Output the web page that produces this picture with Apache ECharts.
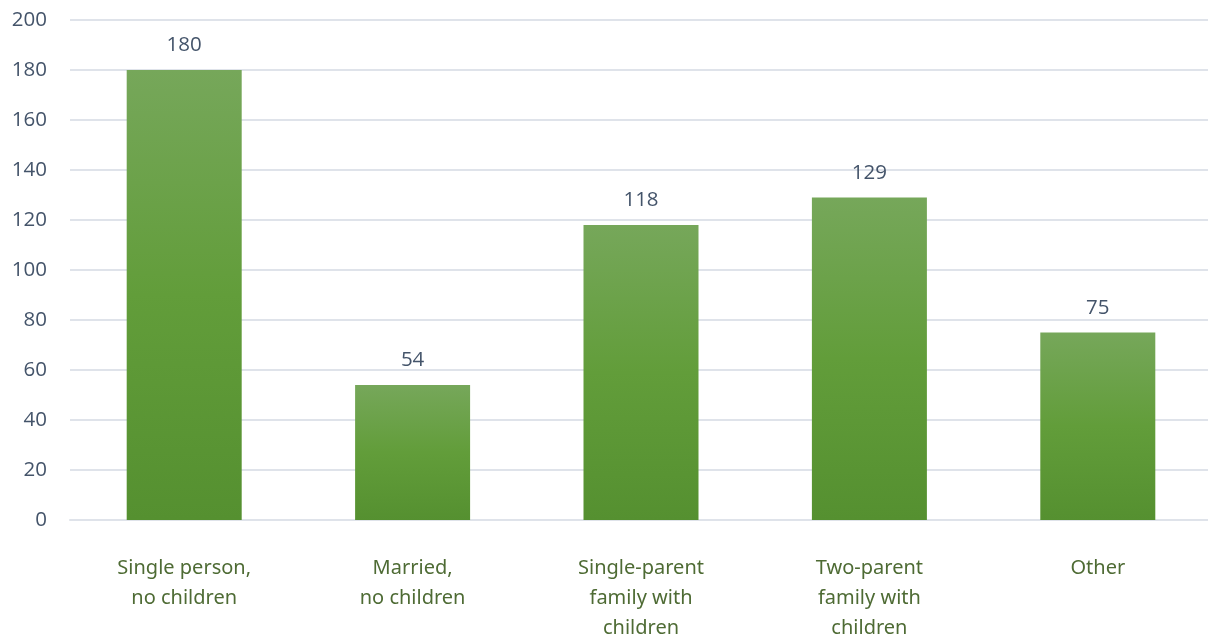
<!DOCTYPE html>
<html>
<head>
<meta charset="utf-8">
<script src="https://cdn.jsdelivr.net/npm/echarts@6/dist/echarts.min.js"></script>
<style>
  html, body { margin: 0; padding: 0; background: #ffffff; }
  #chart { width: 1208px; height: 637px; }
</style>
</head>
<body>
<div id="chart"></div>
<script>
// Household types and their counts
const categories = [
  'Single person,\nno children',
  'Married,\nno children',
  'Single-parent\nfamily with\nchildren',
  'Two-parent\nfamily with\nchildren',
  'Other'
];
const values = [180, 54, 118, 129, 75];
const yTicks = { min: 0, max: 200, interval: 20 };

const chart = echarts.init(document.getElementById('chart'));
chart.setOption({
  animation: false,
  grid: {
    left: 70, right: -4, top: 20, bottom: 117,
    containLabel: false,
    outerBoundsMode: 'none'
  },
  xAxis: {
    type: 'category',
    data: categories,
    axisLine: { show: true, lineStyle: { color: '#dfe3ea', width: 2 } },
    axisTick: { show: false },
    axisLabel: {
      color: '#4e6b34',
      fontFamily: 'Noto Sans',
      fontSize: 20,
      lineHeight: 30,
      margin: 33,
      verticalAlign: 'top',
      interval: 0
    }
  },
  yAxis: {
    type: 'value',
    min: yTicks.min,
    max: yTicks.max,
    interval: yTicks.interval,
    axisLine: { show: false },
    axisTick: { show: false },
    splitLine: { lineStyle: { color: '#dfe3ea', width: 2 } },
    axisLabel: {
      color: '#44546a',
      fontFamily: 'Open Sans',
      fontSize: 20.5,
      margin: 23,
      align: 'right'
    }
  },
  series: [{
    type: 'bar',
    data: values,
    barWidth: 115,
    itemStyle: {
      color: new echarts.graphic.LinearGradient(0, 0, 0, 1, [
        { offset: 0, color: '#76a75a' },
        { offset: 0.5, color: '#629d3a' },
        { offset: 1, color: '#559030' }
      ])
    },
    label: {
      show: true,
      position: 'top',
      distance: 14,
      color: '#44546a',
      fontFamily: 'Open Sans',
      fontSize: 20.5
    }
  }]
});
</script>
</body>
</html>
